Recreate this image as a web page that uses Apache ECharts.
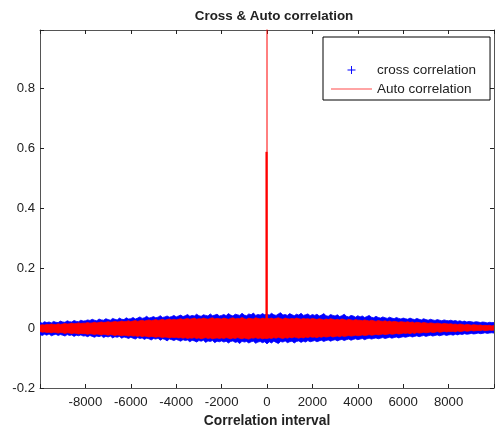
<!DOCTYPE html>
<html>
<head>
<meta charset="utf-8">
<script src="https://cdn.jsdelivr.net/npm/echarts@6/dist/echarts.min.js"></script>
<style>html,body{margin:0;padding:0;background:#fff}#c{width:495px;height:427px}</style>
</head>
<body>
<div id="c"></div>
<script>
// Lag grid: -10000 .. 10000 step 100 (201 samples)
const lagStart = -10000, lagStep = 100;
const xTicks = [-8000, -6000, -4000, -2000, 0, 2000, 4000, 6000, 8000];
const yTicks = [-0.2, 0, 0.2, 0.4, 0.6, 0.8];

// cross correlation (blue): upper / lower edge of the dense noise band
const crossUpper = [
0.019,0.016,0.021,0.018,0.020,0.017,0.022,0.019,0.018,0.023,
0.020,0.019,0.024,0.021,0.020,0.025,0.022,0.021,0.026,0.023,
0.024,0.027,0.025,0.029,0.026,0.024,0.030,0.027,0.026,0.031,
0.028,0.026,0.032,0.029,0.027,0.033,0.029,0.028,0.034,0.030,
0.031,0.035,0.030,0.033,0.037,0.032,0.034,0.039,0.033,0.035,
0.038,0.034,0.036,0.041,0.035,0.037,0.040,0.036,0.038,0.042,
0.037,0.040,0.043,0.038,0.041,0.045,0.039,0.042,0.040,0.046,
0.041,0.039,0.044,0.042,0.040,0.047,0.041,0.043,0.046,0.040,
0.042,0.045,0.041,0.048,0.043,0.040,0.046,0.044,0.042,0.049,
0.043,0.041,0.047,0.044,0.050,0.042,0.045,0.043,0.048,0.044,
0.046,
0.043,0.049,0.044,0.042,0.047,0.051,0.043,0.045,0.042,0.048,
0.044,0.041,0.046,0.043,0.049,0.042,0.044,0.047,0.041,0.045,
0.042,0.046,0.040,0.043,0.048,0.041,0.039,0.045,0.042,0.040,
0.044,0.038,0.041,0.046,0.039,0.037,0.042,0.040,0.036,0.041,
0.037,0.040,0.035,0.038,0.042,0.036,0.034,0.039,0.035,0.033,
0.037,0.034,0.032,0.036,0.033,0.031,0.035,0.032,0.030,0.033,
0.031,0.029,0.033,0.030,0.028,0.032,0.029,0.027,0.031,0.028,
0.026,0.029,0.027,0.025,0.028,0.026,0.024,0.027,0.025,0.024,
0.026,0.023,0.025,0.022,0.024,0.021,0.023,0.020,0.022,0.021,
0.019,0.021,0.020,0.018,0.020,0.019,0.017,0.019,0.018,0.018
];
const crossLower = [
-0.022,-0.025,-0.021,-0.024,-0.020,-0.026,-0.023,-0.021,-0.025,-0.022,
-0.024,-0.027,-0.022,-0.025,-0.023,-0.028,-0.024,-0.026,-0.023,-0.027,
-0.026,-0.029,-0.025,-0.028,-0.031,-0.027,-0.029,-0.026,-0.032,-0.028,
-0.030,-0.027,-0.033,-0.029,-0.031,-0.028,-0.034,-0.030,-0.032,-0.035,
-0.031,-0.034,-0.037,-0.032,-0.035,-0.033,-0.038,-0.034,-0.036,-0.040,
-0.035,-0.037,-0.034,-0.041,-0.036,-0.038,-0.043,-0.037,-0.039,-0.042,
-0.038,-0.041,-0.044,-0.039,-0.042,-0.040,-0.046,-0.041,-0.043,-0.047,
-0.042,-0.044,-0.041,-0.048,-0.043,-0.045,-0.042,-0.049,-0.044,-0.046,
-0.043,-0.047,-0.044,-0.050,-0.045,-0.043,-0.048,-0.046,-0.052,-0.044,
-0.047,-0.045,-0.050,-0.046,-0.044,-0.051,-0.047,-0.045,-0.049,-0.046,
-0.053,
-0.046,-0.050,-0.044,-0.048,-0.052,-0.045,-0.047,-0.043,-0.049,-0.046,
-0.044,-0.050,-0.045,-0.043,-0.048,-0.044,-0.047,-0.042,-0.046,-0.044,
-0.042,-0.046,-0.043,-0.041,-0.045,-0.042,-0.040,-0.044,-0.041,-0.039,
-0.043,-0.040,-0.038,-0.042,-0.039,-0.037,-0.041,-0.038,-0.036,-0.039,
-0.037,-0.035,-0.039,-0.036,-0.034,-0.037,-0.035,-0.033,-0.036,-0.034,
-0.032,-0.035,-0.033,-0.031,-0.034,-0.032,-0.030,-0.033,-0.031,-0.029,
-0.031,-0.029,-0.027,-0.030,-0.028,-0.026,-0.029,-0.027,-0.025,-0.028,
-0.026,-0.024,-0.027,-0.025,-0.023,-0.026,-0.024,-0.022,-0.025,-0.023,
-0.022,-0.024,-0.021,-0.023,-0.020,-0.022,-0.019,-0.021,-0.020,-0.018,
-0.020,-0.019,-0.017,-0.019,-0.018,-0.016,-0.018,-0.017,-0.016,-0.017
];

// auto correlation (red): upper / lower edge of the noise band
const autoUpper = [
0.009,0.011,0.010,0.012,0.011,0.013,0.012,0.011,0.014,0.012,
0.013,0.015,0.013,0.014,0.016,0.014,0.015,0.017,0.015,0.016,
0.016,0.018,0.016,0.017,0.019,0.017,0.018,0.020,0.018,0.019,
0.021,0.019,0.020,0.022,0.020,0.021,0.023,0.021,0.022,0.024,
0.021,0.023,0.025,0.022,0.024,0.026,0.023,0.025,0.027,0.024,
0.026,0.028,0.025,0.027,0.029,0.026,0.028,0.030,0.027,0.029,
0.027,0.029,0.031,0.028,0.030,0.032,0.029,0.031,0.033,0.029,
0.031,0.030,0.033,0.031,0.029,0.032,0.034,0.030,0.032,0.031,
0.030,0.033,0.031,0.029,0.032,0.034,0.030,0.032,0.031,0.035,
0.031,0.029,0.033,0.031,0.030,0.034,0.032,0.030,0.033,0.031,
0.032,
0.031,0.033,0.030,0.032,0.034,0.031,0.029,0.033,0.031,0.030,
0.032,0.030,0.033,0.031,0.029,0.032,0.030,0.031,0.029,0.032,
0.030,0.028,0.031,0.029,0.027,0.030,0.028,0.031,0.029,0.027,
0.029,0.027,0.030,0.028,0.026,0.029,0.027,0.025,0.028,0.026,
0.026,0.024,0.027,0.025,0.023,0.026,0.024,0.022,0.025,0.023,
0.022,0.024,0.021,0.023,0.020,0.022,0.021,0.019,0.021,0.020,
0.019,0.021,0.018,0.020,0.017,0.019,0.018,0.016,0.018,0.017,
0.015,0.017,0.016,0.014,0.016,0.015,0.013,0.015,0.014,0.013,
0.014,0.012,0.013,0.011,0.013,0.012,0.010,0.012,0.011,0.009,
0.011,0.010,0.009,0.010,0.008,0.009,0.008,0.009,0.007,0.008
];
const autoLower = [
-0.012,-0.014,-0.013,-0.015,-0.014,-0.016,-0.014,-0.015,-0.017,-0.015,
-0.016,-0.018,-0.016,-0.017,-0.019,-0.017,-0.018,-0.020,-0.018,-0.019,
-0.019,-0.021,-0.019,-0.020,-0.022,-0.020,-0.021,-0.023,-0.021,-0.022,
-0.024,-0.022,-0.023,-0.025,-0.023,-0.024,-0.026,-0.024,-0.025,-0.027,
-0.025,-0.027,-0.026,-0.028,-0.026,-0.029,-0.027,-0.028,-0.030,-0.028,
-0.029,-0.031,-0.029,-0.030,-0.032,-0.030,-0.031,-0.033,-0.031,-0.032,
-0.031,-0.033,-0.032,-0.034,-0.032,-0.035,-0.033,-0.034,-0.032,-0.035,
-0.033,-0.036,-0.034,-0.032,-0.035,-0.033,-0.036,-0.034,-0.033,-0.035,
-0.033,-0.035,-0.032,-0.034,-0.036,-0.033,-0.035,-0.032,-0.034,-0.036,
-0.033,-0.035,-0.037,-0.033,-0.034,-0.032,-0.035,-0.033,-0.036,-0.034,
-0.035,
-0.033,-0.035,-0.032,-0.034,-0.031,-0.033,-0.035,-0.032,-0.034,-0.031,
-0.033,-0.030,-0.032,-0.034,-0.031,-0.033,-0.030,-0.032,-0.029,-0.031,
-0.030,-0.032,-0.029,-0.031,-0.028,-0.030,-0.029,-0.027,-0.030,-0.028,
-0.027,-0.029,-0.026,-0.028,-0.027,-0.025,-0.027,-0.026,-0.024,-0.026,
-0.025,-0.023,-0.025,-0.024,-0.022,-0.024,-0.023,-0.021,-0.023,-0.022,
-0.020,-0.022,-0.021,-0.019,-0.021,-0.020,-0.018,-0.020,-0.019,-0.017,
-0.018,-0.017,-0.019,-0.016,-0.018,-0.015,-0.017,-0.016,-0.014,-0.016,
-0.015,-0.013,-0.015,-0.014,-0.012,-0.014,-0.013,-0.011,-0.013,-0.012,
-0.012,-0.011,-0.013,-0.010,-0.012,-0.011,-0.009,-0.011,-0.010,-0.008,
-0.010,-0.009,-0.008,-0.009,-0.007,-0.009,-0.008,-0.007,-0.008,-0.007
];
// auto correlation peak at lag 0: thin line up to 1, thicker part up to ~0.59
const autoPeakThinLags = [0, 0];
const autoPeakThinValues = [0.0, 1.0];
const autoPeakThickLags = [-20, -20];
const autoPeakThickValues = [0.0, 0.587];

const lags = crossUpper.map((_, i) => lagStart + i * lagStep);
const bandRows = (up, lo) => up.map((v, i) => [lags[i], v, lo[i]]);

const FONT = 'Liberation Sans, Arial, Helvetica, sans-serif';
const AX = '#555';
const TXT = '#222';
const BLUE = '#0000ff', RED = '#ff0000';

// draws the whole band (upper edge forward, lower edge back) through the axis scales
function bandSeries(name, up, lo, color, z) {
  const rows = bandRows(up, lo);
  return {
    name: name, type: 'custom', data: rows, clip: true, z: z,
    encode: {x: 0, y: [1, 2]},
    itemStyle: {color: color},
    renderItem: function (params, api) {
      if (params.dataIndex !== 0) return null;
      const pts = [];
      for (let i = 0; i < rows.length; i++) pts.push(api.coord([rows[i][0], rows[i][1]]));
      for (let i = rows.length - 1; i >= 0; i--) pts.push(api.coord([rows[i][0], rows[i][2]]));
      return {
        type: 'polygon', shape: {points: pts},
        style: {fill: color, stroke: color, lineWidth: 0.8}
      };
    }
  };
}
function peakSeries(name, lagsArr, vals, width) {
  return {
    name: name, type: 'line',
    data: lagsArr.map((l, i) => [l, vals[i]]), symbol: 'none', showSymbol: false, clip: true,
    lineStyle: {color: RED, width: width}, z: 4
  };
}

const chart = echarts.init(document.getElementById('c'), null, {renderer: 'canvas'});
const fmtY = v => { const r = Math.round(v * 10) / 10; return yTicks.some(t => Math.abs(t - r) < 1e-9) && Math.abs(v - r) < 1e-6 ? String(r) : ''; };
const fmtX = v => xTicks.indexOf(Math.round(v)) >= 0 ? String(Math.round(v)) : '';

const frameAxis = {
  axisLine: {show: true, onZero: false, lineStyle: {color: AX, width: 1}},
  axisTick: {show: true, inside: true, length: 4, lineStyle: {color: TXT}},
  splitLine: {show: false}
};

chart.setOption({
  animation: false,
  backgroundColor: '#fff',
  title: {
    text: 'Cross & Auto correlation', left: 269, textAlign: 'center', top: 5,
    textStyle: {fontFamily: FONT, fontSize: 13.4, fontWeight: 'bold', color: TXT}
  },
  legend: {
    left: 323, top: 37, orient: 'vertical',
    backgroundColor: '#fff', borderColor: '#000', borderWidth: 1, borderRadius: 0,
    padding: [26, 14, 4, 8],
    itemWidth: 41, itemHeight: 8, itemGap: 5, itemTextGap: 5,
    textStyle: {fontFamily: FONT, fontSize: 13.5, color: TXT},
    data: [
      {name: 'cross correlation', icon: 'path://M4.4,0H5.6V4.4H10V5.6H5.6V10H4.4V5.6H0V4.4H4.4Z', itemStyle: {color: BLUE}},
      {name: 'Auto correlation', icon: 'path://M0,0H41V1.1H0Z', itemStyle: {color: '#ff4a4a'}}
    ]
  },
  grid: {left: 40, right: 1, top: 30, bottom: 39, containLabel: false, outerBoundsMode: 'none'},
  xAxis: [Object.assign({
    type: 'value', min: -10000, max: 10000, interval: 2000,
    name: 'Correlation interval', nameLocation: 'middle', nameGap: 23,
    nameTextStyle: {fontFamily: FONT, fontSize: 13.8, fontWeight: 'bold', color: TXT},
    axisLabel: {formatter: fmtX, fontFamily: FONT, fontSize: 13.2, color: TXT, margin: 8}
  }, frameAxis), Object.assign({
    type: 'value', position: 'top', min: -10000, max: 10000, interval: 2000,
    axisLabel: {show: false}
  }, frameAxis)],
  yAxis: [Object.assign({
    type: 'value', min: -0.2, max: 0.993, interval: 0.2,
    axisLabel: {formatter: fmtY, fontFamily: FONT, fontSize: 13.2, color: TXT, margin: 5}
  }, frameAxis), Object.assign({
    type: 'value', position: 'right', min: -0.2, max: 0.993, interval: 0.2,
    axisLabel: {show: false}
  }, frameAxis)],
  series: [
    bandSeries('cross correlation', crossUpper, crossLower, BLUE, 2),
    bandSeries('Auto correlation', autoUpper, autoLower, RED, 3),
    peakSeries('auto peak thick', autoPeakThickLags, autoPeakThickValues, 2.2),
    peakSeries('auto peak thin', autoPeakThinLags, autoPeakThinValues, 1)
  ]
});
</script>
</body>
</html>
